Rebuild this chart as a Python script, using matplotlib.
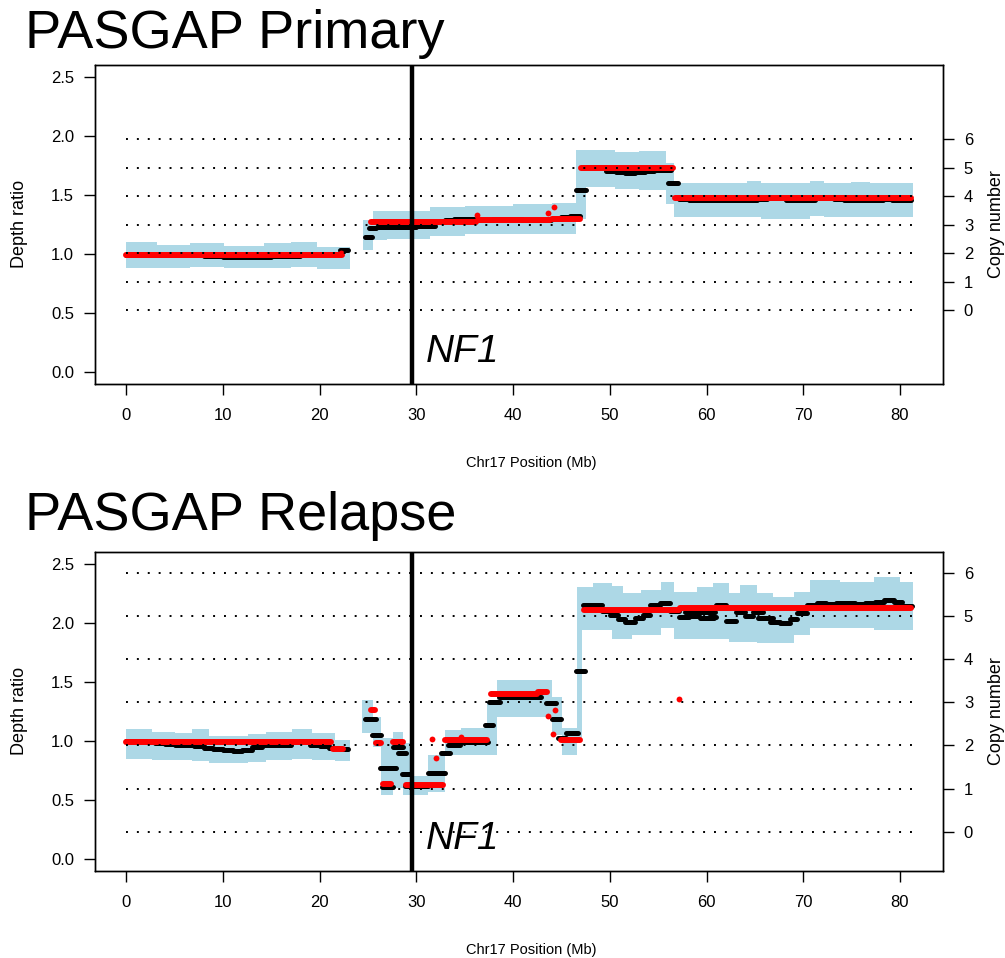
import matplotlib
matplotlib.use("Agg")
import matplotlib.pyplot as plt
import numpy as np

plt.rcParams['font.family'] = ['Liberation Sans', 'DejaVu Sans']

# ---------------------------------------------------------------- shared
chrom_end = 81.2
nf1_mb = 29.5
depth_ticks = [0.0, 0.5, 1.0, 1.5, 2.0, 2.5]
x_ticks = [0, 10, 20, 30, 40, 50, 60, 70, 80]
cn_labels = ["0", "1", "2", "3", "4", "5", "6"]

# ---------------------------------------------------------------- primary
prim_cn_depth = [0.525, 0.766, 1.007, 1.248, 1.489, 1.730, 1.970]

prim_band_start = [0.0, 3.2, 6.6, 10.1, 14.2, 17.0, 19.7,
                   24.5, 25.5, 27.0, 31.4, 35.0, 40.0, 44.0, 46.5,
                   47.5, 50.5, 53.0, 55.8,
                   56.6, 64.2, 65.6, 70.7, 72.1, 74.9, 76.9]
prim_band_end = [3.2, 6.6, 10.1, 14.2, 17.0, 19.7, 23.1,
                 25.5, 27.0, 31.4, 35.0, 40.0, 44.0, 46.5, 47.5,
                 50.5, 53.0, 55.8, 56.6,
                 64.2, 65.6, 70.7, 72.1, 74.9, 76.9, 81.3]
prim_band_low = [0.885, 0.885, 0.89, 0.885, 0.885, 0.89, 0.87,
                 1.03, 1.12, 1.13, 1.15, 1.17, 1.17, 1.17, 1.30,
                 1.57, 1.55, 1.54, 1.42,
                 1.31, 1.31, 1.30, 1.32, 1.31, 1.31, 1.31]
prim_band_high = [1.10, 1.08, 1.09, 1.07, 1.09, 1.10, 1.055,
                  1.29, 1.36, 1.36, 1.40, 1.41, 1.42, 1.43, 1.88,
                  1.88, 1.86, 1.87, 1.77,
                  1.60, 1.62, 1.60, 1.62, 1.60, 1.61, 1.60]

prim_win_start = [0, 1, 2, 3, 4, 5, 6, 7, 8, 9, 10, 11, 12, 13, 14, 15, 16, 17, 18, 19, 20, 21, 22.1,
                  24.65, 25.05,
                  25.9, 26.9, 27.9, 28.9, 29.9, 30.9, 31.9, 32.9, 33.9, 34.9,
                  35.9, 36.9, 37.9, 38.9, 39.9, 40.9, 41.9, 42.9, 43.9, 44.9, 45.9,
                  46.45, 47.6, 48.6, 49.6, 50.6, 51.6, 52.6, 53.6, 54.6, 55.6, 56.05,
                  57.2, 58.2, 59.2, 60.2, 61.2, 62.2, 63.2, 64.2, 65.2, 66.2, 67.2, 68.2,
                  69.2, 70.2, 71.2, 72.2, 73.2, 74.2, 75.2, 76.2, 77.2, 78.2, 79.2, 80.2]
prim_win_end = [1, 2, 3, 4, 5, 6, 7, 8, 9, 10, 11, 12, 13, 14, 15, 16, 17, 18, 19, 20, 21, 22, 22.9,
                25.45, 25.85,
                26.9, 27.9, 28.9, 29.9, 30.9, 31.9, 32.9, 33.9, 34.9, 35.9,
                36.9, 37.9, 38.9, 39.9, 40.9, 41.9, 42.9, 43.9, 44.9, 45.9, 46.9,
                47.55, 48.6, 49.6, 50.6, 51.6, 52.6, 53.6, 54.6, 55.6, 56.3, 57.05,
                58.2, 59.2, 60.2, 61.2, 62.2, 63.2, 64.2, 65.2, 66.2, 67.2, 68.2, 69.2,
                70.2, 71.2, 72.2, 73.2, 74.2, 75.2, 76.2, 77.2, 78.2, 79.2, 80.2, 81.1]
prim_win_mean = [0.99, 0.99, 0.99, 0.99, 0.99, 0.99, 0.99, 0.99, 0.985, 0.98, 0.975, 0.975,
                 0.975, 0.975, 0.975, 0.98, 0.98, 0.985, 0.99, 0.99, 0.99, 1.00, 1.035,
                 1.14, 1.22,
                 1.225, 1.225, 1.23, 1.23, 1.235, 1.24, 1.27, 1.29, 1.295, 1.295,
                 1.29, 1.29, 1.295, 1.295, 1.295, 1.29, 1.29, 1.29, 1.295, 1.31, 1.32,
                 1.54, 1.74, 1.735, 1.70, 1.69, 1.685, 1.69, 1.70, 1.71, 1.71, 1.60,
                 1.465, 1.46, 1.455, 1.455, 1.46, 1.46, 1.46, 1.46, 1.465, 1.47, 1.47, 1.46,
                 1.455, 1.46, 1.475, 1.47, 1.465, 1.46, 1.46, 1.46, 1.46, 1.465, 1.46, 1.46]

prim_seg_start = [0.0, 25.3, 36.4, 44.0, 47.0, 56.7]
prim_seg_end = [22.3, 36.2, 43.8, 46.9, 56.5, 81.1]
prim_seg_value = [0.99, 1.275, 1.285, 1.30, 1.725, 1.47]
prim_dot_pos = [22.2, 36.3, 43.6, 44.2]
prim_dot_value = [1.01, 1.33, 1.35, 1.40]

# ---------------------------------------------------------------- relapse
rel_cn_depth = [0.231, 0.597, 0.963, 1.329, 1.695, 2.061, 2.426]

rel_band_start = [0.0, 2.6, 5.0, 6.8, 8.5, 12.6, 14.4, 17.1, 19.2, 21.6,
                  24.4, 25.5, 26.3, 27.6, 28.6, 29.6, 31.2, 32.9, 34.6, 37.3, 38.3, 44.0, 45.0, 46.6,
                  47.1, 48.3, 50.2, 51.4, 52.3, 53.2, 55.3, 56.6, 59.0, 60.7, 62.3, 63.5, 65.2,
                  66.9, 69.0, 70.7, 73.8, 77.3, 80.0]
rel_band_end = [2.6, 5.0, 6.8, 8.5, 12.6, 14.4, 17.1, 19.2, 21.6, 23.1,
                25.5, 26.3, 27.6, 28.6, 29.6, 31.2, 32.9, 34.6, 37.3, 38.3, 44.0, 45.0, 46.6, 47.1,
                48.3, 50.2, 51.4, 52.3, 53.2, 55.3, 56.6, 59.0, 60.7, 62.3, 63.5, 65.2, 66.9,
                69.0, 70.7, 73.8, 77.3, 80.0, 81.3]
rel_band_low = [0.85, 0.84, 0.84, 0.83, 0.81, 0.82, 0.84, 0.85, 0.84, 0.83,
                1.07, 0.95, 0.54, 0.60, 0.54, 0.54, 0.57, 0.88, 0.88, 0.88, 1.20, 1.05, 0.88, 1.00,
                1.94, 1.94, 1.86, 1.86, 1.90, 1.90, 1.96, 1.86, 1.86, 1.86, 1.84, 1.84, 1.83,
                1.83, 1.90, 1.96, 1.96, 1.94, 1.94]
rel_band_high = [1.10, 1.08, 1.065, 1.10, 1.04, 1.06, 1.08, 1.10, 1.065, 1.01,
                 1.35, 1.20, 1.03, 1.08, 0.98, 0.70, 0.88, 1.09, 1.11, 1.33, 1.52, 1.37, 1.11, 2.30,
                 2.30, 2.34, 2.31, 2.25, 2.25, 2.28, 2.35, 2.26, 2.30, 2.34, 2.25, 2.32, 2.25,
                 2.22, 2.26, 2.36, 2.35, 2.39, 2.35]

rel_win_start = [0, 1, 2, 3, 4, 5, 6, 7, 8, 9, 10, 11, 12, 13, 14, 15, 16, 17, 18, 19, 20, 21, 22.1,
                 24.65, 25.45, 26.25, 26.45, 27.55, 28.05, 28.55, 28.85, 31.15, 32.55, 33.25,
                 34.75, 37.05, 37.55, 38.55, 43.35, 44.05, 44.65, 45.45, 46.45,
                 47.2, 48.2, 49.2, 50.0, 50.8, 51.6, 52.6, 53.4, 54.2, 55.2, 56.2, 57.2,
                 58.2, 59.2, 60.2, 61.0, 62.0, 63.0, 64.0, 64.8, 65.8, 66.6, 67.6, 68.6,
                 69.4, 70.4, 71.4, 72.4, 73.4, 74.4, 75.4, 76.4, 77.4, 78.4, 79.4, 80.2,
                 57.8, 59.3, 65.3]
rel_win_end = [1, 2, 3, 4, 5, 6, 7, 8, 9, 10, 11, 12, 13, 14, 15, 16, 17, 18, 19, 20, 21, 22, 22.9,
               25.85, 26.35, 27.85, 27.55, 28.65, 28.95, 29.45, 31.15, 32.95, 33.45, 34.55,
               37.35, 37.95, 38.65, 42.85, 44.45, 44.95, 45.45, 46.75, 47.45,
               48.2, 49.2, 50.0, 50.8, 51.6, 52.6, 53.4, 54.2, 55.2, 56.2, 57.2, 58.2,
               59.2, 60.2, 61.0, 62.0, 63.0, 64.0, 64.8, 65.8, 66.6, 67.6, 68.6, 69.4,
               70.4, 71.4, 72.4, 73.4, 74.4, 75.4, 76.4, 77.4, 78.4, 79.4, 80.2, 81.2,
               60.9, 60.8, 66.9]
rel_win_mean = [1.00, 1.00, 0.995, 0.98, 0.975, 0.97, 0.965, 0.96, 0.945, 0.93, 0.92, 0.915,
                0.92, 0.95, 0.965, 0.965, 0.97, 0.995, 1.00, 0.965, 0.955, 0.94, 0.935,
                1.19, 1.05, 0.77, 0.61, 0.95, 0.90, 0.72, 0.62, 0.73, 0.90, 0.97,
                0.99, 1.14, 1.33, 1.37, 1.32, 1.19, 1.03, 1.07, 1.59,
                2.15, 2.15, 2.10, 2.07, 2.03, 2.01, 2.04, 2.07, 2.15, 2.17, 2.10, 2.05,
                2.06, 2.09, 2.05, 2.15, 2.02, 2.09, 2.06, 2.09, 2.04, 2.01, 2.00, 2.03,
                2.08, 2.15, 2.17, 2.16, 2.17, 2.17, 2.16, 2.17, 2.18, 2.19, 2.18, 2.14,
                2.09, 2.04, 2.04]

rel_seg_start = [0.0, 21.4, 25.25, 25.8, 26.55, 27.55, 28.9, 33.0, 37.7, 42.6, 44.9, 47.3, 57.3]
rel_seg_end = [21.2, 22.4, 25.75, 26.3, 27.35, 28.6, 32.7, 37.3, 42.5, 43.5, 46.9, 57.1, 81.1]
rel_seg_value = [0.99, 0.935, 1.26, 0.98, 0.635, 0.99, 0.625, 1.005, 1.395, 1.415, 1.01, 2.11, 2.13]
rel_dot_pos = [31.6, 32.0, 34.6, 43.6, 44.1, 44.3, 57.2]
rel_dot_value = [1.02, 0.86, 1.035, 1.21, 1.06, 1.26, 1.36]

# ---------------------------------------------------------------- figure
W, H = 1005, 958
fig = plt.figure(figsize=(W / 100, H / 100), dpi=100)
ax_top = fig.add_axes([0.0945, 0.5992, 0.8438, 0.3330])
ax_bot = fig.add_axes([0.0945, 0.0908, 0.8438, 0.3330])


def draw_panel(ax, cn_depth, band_start, band_end, band_low, band_high,
               win_start, win_end, win_mean, seg_start, seg_end, seg_value,
               dot_pos, dot_value):
    bs = np.asarray(band_start)
    be = np.asarray(band_end)
    bl = np.asarray(band_low)
    bh = np.asarray(band_high)
    ax.bar(bs, bh - bl, width=be - bs, bottom=bl, align='edge',
           color='#add8e6', linewidth=0, zorder=1)

    wins = ax.hlines(win_mean, win_start, win_end, colors='black',
                     linewidth=3.6, zorder=2)
    wins.set_capstyle('round')

    segs = ax.hlines(seg_value, seg_start, seg_end, colors='#ff0000',
                     linewidth=4.3, zorder=3)
    segs.set_capstyle('round')
    ax.plot(dot_pos, dot_value, 'o', color='#ff0000', markersize=4.2,
            markeredgewidth=0, zorder=3)

    ax.hlines(cn_depth, 0, chrom_end, colors='black', linewidth=1.4,
              linestyles=(0, (1, 4.6)), zorder=4)

    ax.axvline(nf1_mb, color='black', linewidth=3.2, zorder=5)
    ax.text(31.0, 0.09, 'NF1', style='italic', fontsize=28, zorder=6)

    ax.set_xlim(-3.25, 84.45)
    ax.set_ylim(-0.1, 2.6)
    ax.set_xticks(x_ticks)
    ax.set_xticklabels([str(t) for t in x_ticks])
    ax.set_yticks(depth_ticks)
    ax.set_yticklabels([f"{t:.1f}" for t in depth_ticks])
    ax.tick_params(direction='out', length=8, width=1.0, labelsize=12, pad=7)
    ax.tick_params(axis='x', pad=9)
    for sp in ax.spines.values():
        sp.set_linewidth(1.0)

    ax.set_xlabel('Chr17 Position (Mb)', fontsize=10.5)
    ax.xaxis.set_label_coords(0.514, -0.226)

    rax = ax.twinx()
    rax.set_ylim(ax.get_ylim())
    rax.set_yticks(cn_depth)
    rax.set_yticklabels(cn_labels)
    rax.tick_params(direction='out', length=8, width=1.0, labelsize=12, pad=7)
    for sp in rax.spines.values():
        sp.set_linewidth(1.0)


draw_panel(ax_top, prim_cn_depth, prim_band_start, prim_band_end, prim_band_low,
           prim_band_high, prim_win_start, prim_win_end, prim_win_mean,
           prim_seg_start, prim_seg_end, prim_seg_value, prim_dot_pos, prim_dot_value)
draw_panel(ax_bot, rel_cn_depth, rel_band_start, rel_band_end, rel_band_low,
           rel_band_high, rel_win_start, rel_win_end, rel_win_mean,
           rel_seg_start, rel_seg_end, rel_seg_value, rel_dot_pos, rel_dot_value)

# axis titles on both sides of each panel
for yc in (224, 711):
    fig.text(20 / W, 1 - yc / H, 'Depth ratio', fontsize=13, rotation=90,
             ha='center', va='center')
    fig.text(996 / W, 1 - yc / H, 'Copy number', fontsize=13, rotation=90,
             ha='center', va='center')

fig.text(25 / W, 1 - 48 / H, 'PASGAP Primary', fontsize=39, va='baseline', ha='left')
fig.text(25 / W, 1 - 530 / H, 'PASGAP Relapse', fontsize=39, va='baseline', ha='left')

fig.savefig('out.png', dpi=100)
